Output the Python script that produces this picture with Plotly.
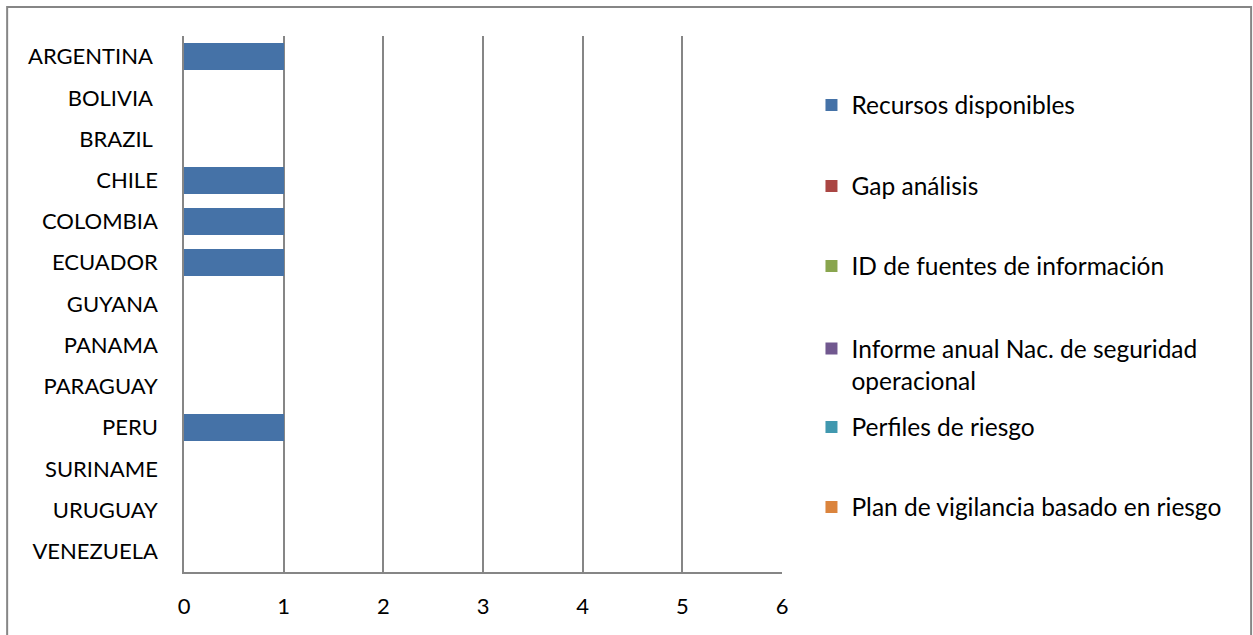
import plotly.graph_objects as go

countries = ["ARGENTINA\u00a0", "BOLIVIA\u00a0", "BRAZIL\u00a0", "CHILE", "COLOMBIA", "ECUADOR",
             "GUYANA", "PANAMA", "PARAGUAY", "PERU", "SURINAME", "URUGUAY", "VENEZUELA"]
series_names = ["Recursos disponibles", "Gap análisis", "ID de fuentes de información",
                "Informe anual Nac. de seguridad<br>operacional", "Perfiles de riesgo",
                "Plan de vigilancia basado en riesgo"]
recursos = [1, 0, 0, 1, 1, 1, 0, 0, 0, 1, 0, 0, 0]
gap = [0] * 13
id_fuentes = [0] * 13
informe = [0] * 13
perfiles = [0] * 13
plan = [0] * 13
series_values = [recursos, gap, id_fuentes, informe, perfiles, plan]
colors = ["#4572A7", "#AA4643", "#89A54E", "#71588F", "#4198AF", "#DB843D"]
x_ticks = [0, 1, 2, 3, 4, 5, 6]

W, H = 1253, 635
L, R, T, B = 184, 782.5, 36, 572
pw, ph = R - L, B - T

def px(x):
    return (x - L) / pw

def py(y):
    return (B - y) / ph

FONT = "Lato"
tick_fs = 22
leg_fs = 24.5

fig = go.Figure()
legend_centers = [105, 186, 266, 346, 427, 507]
legend_keys = ["legend", "legend2", "legend3", "legend4", "legend5", "legend6"]
for name, vals, col, key in zip(series_names, series_values, colors, legend_keys):
    fig.add_trace(go.Bar(
        y=countries, x=vals, name=name, orientation="h",
        marker=dict(color=col, line=dict(width=0)),
        legend=key,
    ))

layout_legends = {}
for i, (key, cy) in enumerate(zip(legend_keys, legend_centers)):
    if i == 3:
        layout_legends[key] = dict(x=px(812), y=py(cy - 20), xanchor="left", yanchor="top",
                                   valign="top", font=dict(family=FONT, size=leg_fs, color="#000"),
                                   bgcolor="rgba(0,0,0,0)", borderwidth=0)
    else:
        layout_legends[key] = dict(x=px(812), y=py(cy), xanchor="left", yanchor="middle",
                                   font=dict(family=FONT, size=leg_fs, color="#000"),
                                   bgcolor="rgba(0,0,0,0)", borderwidth=0)

fig.update_layout(
    width=W, height=H,
    barmode="stack", bargap=0.35,
    margin=dict(l=L, r=W - R, t=T, b=H - B),
    paper_bgcolor="white", plot_bgcolor="white",
    font=dict(family=FONT, size=tick_fs, color="#000"),
    showlegend=True,
    xaxis=dict(range=[0, 6], tickvals=x_ticks, showgrid=True, gridcolor="#868686", gridwidth=1.5,
               showline=True, linecolor="#868686", linewidth=1.5, zeroline=False,
               ticks="", ticklabelstandoff=14, fixedrange=True),
    yaxis=dict(autorange="reversed", showgrid=False, showline=True, linecolor="#868686",
               linewidth=1.5, zeroline=False,
               ticks="", ticklabelstandoff=20, fixedrange=True),
    shapes=[dict(type="rect", xref="paper", yref="paper",
                 x0=px(7), x1=px(1252), y0=py(645), y1=py(7),
                 line=dict(color="#868686", width=2), fillcolor="rgba(0,0,0,0)", layer="below")],
    **layout_legends,
)

fig.write_html("out.html", config={"displayModeBar": False},
               post_script="document.body.style.margin='0';document.body.style.overflow='hidden';")
